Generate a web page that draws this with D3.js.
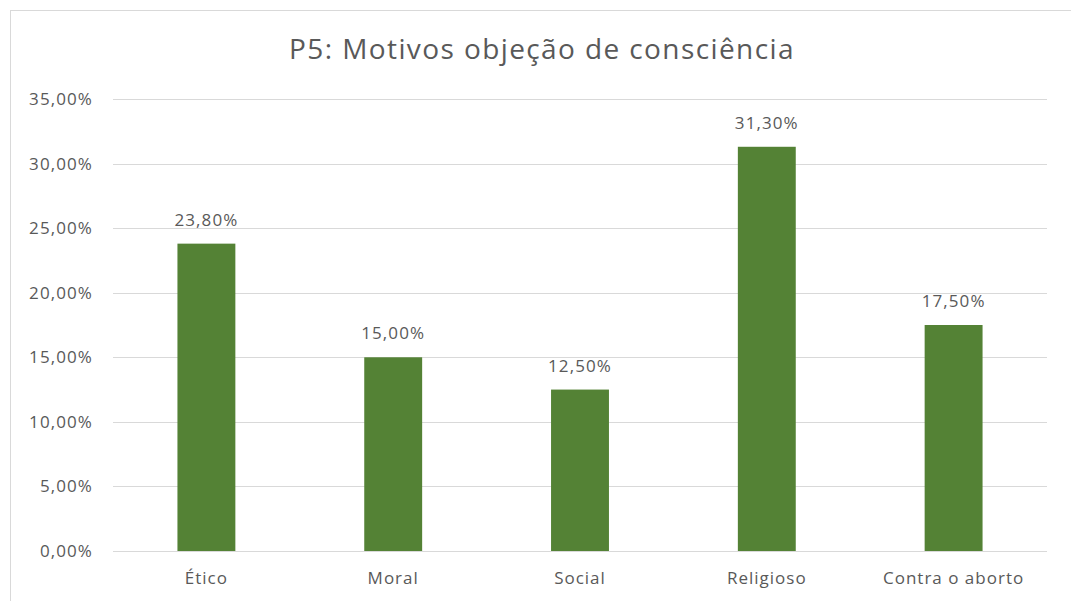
<!DOCTYPE html>
<html>
<head>
<meta charset="utf-8">
<script src="https://cdn.jsdelivr.net/npm/d3@7"></script>
<style>
    body { margin: 0; background: #fff; }
    svg text { font-family: "Open Sans", "DejaVu Sans", sans-serif; fill: #595959; }
</style>
</head>
<body>
<div id="chart"></div>
<script>
// 数据
const categories = ["Ético", "Moral", "Social", "Religioso", "Contra o aborto"];
const values = [23.8, 15.0, 12.5, 31.3, 17.5];
const yTicks = [0, 5, 10, 15, 20, 25, 30, 35];
const chartTitle = "P5: Motivos objeção de consciência";

const W = 1071, H = 601;
const margin = { top: 99, right: 24, bottom: 50, left: 113 };

const svg = d3.select('#chart')
    .append('svg')
    .attr('width', W)
    .attr('height', H);

// 外框
svg.append('rect')
    .attr('x', 10.5)
    .attr('y', 10.5)
    .attr('width', W + 20)
    .attr('height', H + 20)
    .attr('fill', 'none')
    .attr('stroke', '#d9d9d9');

const x = d3.scaleBand()
    .domain(categories)
    .range([margin.left, W - margin.right])
    .paddingInner(0.69)
    .paddingOuter(0.345);

const y = d3.scaleLinear()
    .domain([0, 35])
    .range([H - margin.bottom, margin.top]);

const fmt = v => v.toFixed(2).replace('.', ',') + '%';

// 网格线
svg.append('g')
    .selectAll('line')
    .data(yTicks)
    .enter()
    .append('line')
    .attr('x1', margin.left)
    .attr('x2', W - margin.right)
    .attr('y1', d => Math.round(y(d)) + 0.5)
    .attr('y2', d => Math.round(y(d)) + 0.5)
    .attr('stroke', '#d9d9d9')
    .attr('stroke-width', 1);

// Y轴标签
svg.append('g')
    .selectAll('text')
    .data(yTicks)
    .enter()
    .append('text')
    .attr('x', 93)
    .attr('y', d => y(d))
    .attr('dy', '0.35em')
    .attr('text-anchor', 'end')
    .style('font-size', '17px')
    .style('letter-spacing', '1.1px')
    .text(d => fmt(d));

// 柱状图
svg.selectAll('.bar')
    .data(values)
    .enter()
    .append('rect')
    .attr('class', 'bar')
    .attr('x', (d, i) => x(categories[i]))
    .attr('width', x.bandwidth())
    .attr('y', d => y(d))
    .attr('height', d => y(0) - y(d))
    .attr('fill', '#548235');

// 数据标签
svg.selectAll('.label')
    .data(values)
    .enter()
    .append('text')
    .attr('class', 'label')
    .attr('x', (d, i) => x(categories[i]) + x.bandwidth() / 2)
    .attr('y', d => y(d) - 18)
    .attr('text-anchor', 'middle')
    .style('font-size', '17px')
    .style('letter-spacing', '1.1px')
    .text(d => fmt(d));

// X轴标签
svg.selectAll('.cat')
    .data(categories)
    .enter()
    .append('text')
    .attr('class', 'cat')
    .attr('x', d => x(d) + x.bandwidth() / 2)
    .attr('y', y(0) + 33)
    .attr('text-anchor', 'middle')
    .style('font-size', '17px')
    .style('letter-spacing', '1px')
    .text(d => d);

// 标题
svg.append('text')
    .attr('x', 542)
    .attr('y', 59)
    .attr('text-anchor', 'middle')
    .style('font-size', '28px')
    .style('letter-spacing', '1.4px')
    .text(chartTitle);
</script>
</body>
</html>
